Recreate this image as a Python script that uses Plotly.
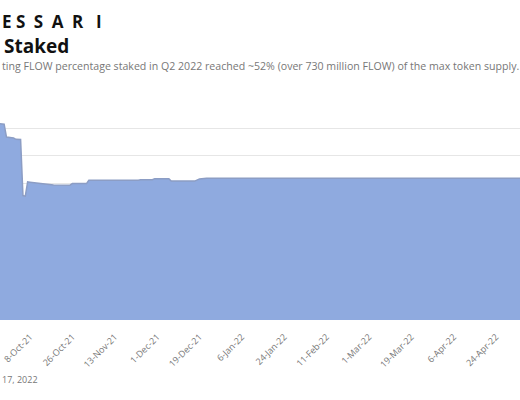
import plotly.graph_objects as go

# Daily % of max FLOW supply staked
dates = [
    "2021-09-20", "2021-09-22", "2021-09-27", "2021-09-28", "2021-10-01",
    "2021-10-02", "2021-10-04", "2021-10-05", "2021-10-06", "2021-10-07",
    "2021-10-08", "2021-10-13", "2021-10-18", "2021-10-25", "2021-10-26",
    "2021-11-01", "2021-11-02", "2021-11-23", "2021-11-24", "2021-11-29",
    "2021-11-30", "2021-12-06", "2021-12-07", "2021-12-17", "2021-12-19",
    "2021-12-22", "2022-02-01", "2022-04-01", "2022-06-17",
]
pct_staked = [
    72.3, 72.0, 71.6, 66.9, 66.6,
    66.1, 66.0, 45.5, 45.3, 50.5,
    50.4, 49.8, 49.4, 49.3, 49.9,
    49.9, 51.1, 51.1, 51.3, 51.3,
    51.7, 51.7, 50.8, 50.8, 51.6,
    51.8, 51.8, 51.8, 51.9,
]

tick_dates = [
    "2021-10-08", "2021-10-26", "2021-11-13", "2021-12-01", "2021-12-19",
    "2022-01-06", "2022-01-24", "2022-02-11", "2022-03-01", "2022-03-19",
    "2022-04-06", "2022-04-24",
]
y_ticks = [0, 10, 20, 30, 40, 50, 60, 70, 80]

# Texts as visible in the (cropped) reference
brand_text = "E S\u2002S\u2002A\u2002R\u2002 I"
title_text = "Staked"
subtitle_text = ("ting FLOW percentage staked in Q2 2022 reached ~52% "
                 "(over 730 million FLOW) of the max token supply.")
footer_text = "17, 2022"

W, H = 520, 400
T, B = 101, 80
PH = H - T - B

fig = go.Figure()
fig.add_trace(go.Scatter(
    x=dates, y=pct_staked, mode="lines", fill="tozeroy",
    fillcolor="#8FAADF", line=dict(color="#8C9DC4", width=1.5),
    hoverinfo="skip", showlegend=False,
))


def py(pix):
    """paper y for a pixel row measured from the top"""
    return 1 + (T - pix) / PH


fig.update_layout(
    width=W, height=H,
    margin=dict(l=0, r=0, t=T, b=B),
    paper_bgcolor="white", plot_bgcolor="white",
    font=dict(family="Open Sans", color="#666666"),
    xaxis=dict(
        range=["2021-09-25 06:00", "2022-05-04 05:00"],
        tickvals=tick_dates, tickformat="%-d-%b-%y", tickangle=-45,
        tickfont=dict(size=9, color="#777777"),
        ticklabelstandoff=9, ticklabelshift=0,
        showgrid=False, zeroline=False, showline=False, ticks="",
    ),
    yaxis=dict(
        range=[0, 80.1], tickvals=y_ticks, showticklabels=False,
        gridcolor="#E6E6E6", gridwidth=1, zeroline=False, showline=False,
    ),
    annotations=[
        dict(text=brand_text, xref="paper", yref="paper",
             x=0, xanchor="left", y=py(21.5), yanchor="middle",
             showarrow=False, font=dict(family="Open Sans", size=17, color="#111111", weight="bold")),
        dict(text=title_text, xref="paper", yref="paper",
             x=2 / W, xanchor="left", y=py(45.5), yanchor="middle",
             showarrow=False, font=dict(family="Open Sans", size=19, color="#111111", weight="bold")),
        dict(text=subtitle_text, xref="paper", yref="paper",
             x=0, xanchor="left", y=py(66), yanchor="middle",
             showarrow=False, font=dict(family="Open Sans", size=10.6, color="#777777")),
        dict(text=footer_text, xref="paper", yref="paper",
             x=0, xanchor="left", y=py(379), yanchor="middle",
             showarrow=False, font=dict(family="Open Sans", size=9, color="#777777")),
    ],
)

fig.write_html(
    "out.html",
    config={"displayModeBar": False},
    post_script="document.body.style.margin='0px';document.body.style.overflow='hidden';",
)
